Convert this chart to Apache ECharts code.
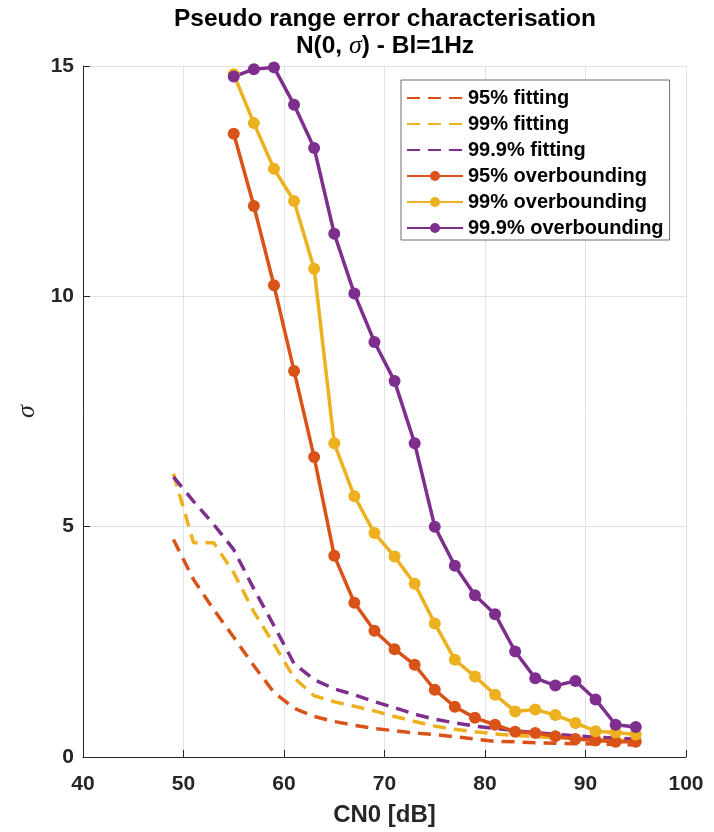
<!DOCTYPE html>
<html>
<head>
<meta charset="utf-8">
<script src="https://cdn.jsdelivr.net/npm/echarts@6.0.0/dist/echarts.min.js"></script>
<style>
  html, body { margin: 0; padding: 0; background: #fff; }
  #chart { width: 714px; height: 832px; }
</style>
</head>
<body>
<div id="chart"></div>
<script>
// CN0 sample points [dB]
const cn0Fitting = [49, 51, 53, 55, 57, 59, 61, 63, 65, 67, 69, 71, 73, 75, 77, 79, 81, 83, 85, 87, 89, 91, 93, 95];
const cn0Overbound = [55, 57, 59, 61, 63, 65, 67, 69, 71, 73, 75, 77, 79, 81, 83, 85, 87, 89, 91, 93, 95];

// Fitted sigma curves
const fit95  = [4.72, 3.85, 3.2, 2.6, 1.98, 1.4, 1.06, 0.88, 0.77, 0.69, 0.62, 0.57, 0.52, 0.49, 0.44, 0.39, 0.34, 0.33, 0.31, 0.30, 0.29, 0.28, 0.27, 0.26];
const fit99  = [6.15, 4.65, 4.65, 4.0, 3.15, 2.45, 1.72, 1.33, 1.2, 1.1, 1.0, 0.88, 0.77, 0.67, 0.6, 0.55, 0.5, 0.47, 0.44, 0.42, 0.40, 0.38, 0.37, 0.36];
const fit999 = [6.08, 5.55, 5.05, 4.5, 3.65, 2.85, 2.03, 1.68, 1.48, 1.35, 1.2, 1.07, 0.93, 0.82, 0.74, 0.67, 0.62, 0.57, 0.53, 0.49, 0.46, 0.43, 0.41, 0.39];

// Overbounding sigma values
const ob95  = [13.53, 11.96, 10.24, 8.38, 6.51, 4.37, 3.35, 2.74, 2.34, 2.0, 1.46, 1.09, 0.85, 0.70, 0.55, 0.52, 0.45, 0.39, 0.36, 0.33, 0.33];
const ob99  = [14.82, 13.76, 12.77, 12.07, 10.6, 6.81, 5.66, 4.86, 4.35, 3.76, 2.90, 2.11, 1.75, 1.35, 0.99, 1.03, 0.91, 0.74, 0.56, 0.53, 0.49];
const ob999 = [14.77, 14.93, 14.97, 14.16, 13.22, 11.36, 10.06, 9.01, 8.16, 6.81, 5.0, 4.15, 3.51, 3.10, 2.29, 1.71, 1.55, 1.65, 1.25, 0.70, 0.65];

const seriesNames = ['95% fitting', '99% fitting', '99.9% fitting', '95% overbounding', '99% overbounding', '99.9% overbounding'];
const xTicks = [40, 50, 60, 70, 80, 90, 100];
const yTicks = [0, 5, 10, 15];

const RED = '#D95319', YELLOW = '#EDB120', PURPLE = '#7E2F8E';
const AXIS = '#262626';
const FONT = '"Liberation Sans", Arial, Helvetica, sans-serif';
const SERIF = '"Liberation Serif", "DejaVu Serif", serif';

function pairs(xs, ys) { return xs.map((x, i) => [x, ys[i]]); }

function fitting(name, color, ys) {
  return {
    name, type: 'line', data: pairs(cn0Fitting, ys),
    symbol: 'none', color,
    lineStyle: { color, width: 3.5, type: [13, 8] },
    silent: true
  };
}
function overbound(name, color, ys) {
  return {
    name, type: 'line', data: pairs(cn0Overbound, ys),
    symbol: 'circle', symbolSize: 12, showSymbol: true, color,
    itemStyle: { color },
    lineStyle: { color, width: 3.5 },
    silent: true
  };
}

const chart = echarts.init(document.getElementById('chart'), null, { renderer: 'canvas' });
chart.setOption({
  animation: false,
  backgroundColor: '#fff',
  textStyle: { fontFamily: FONT },
  graphic: [
    { type: 'text', style: { x: 385, y: 19, align: 'center', verticalAlign: 'middle',
        text: 'Pseudo range error characterisation',
        font: 'bold 24.5px ' + FONT, fill: '#000' } },
    { type: 'text', style: { x: 385, y: 46, align: 'center', verticalAlign: 'middle',
        text: '{a|N(0, }{s|σ}{a|) - Bl=1Hz}',
        rich: {
          a: { fontFamily: FONT, fontWeight: 'bold', fontSize: 24.5, color: '#000' },
          s: { fontFamily: SERIF, fontStyle: 'italic', fontSize: 26, color: '#000' }
        } } }
  ],
  grid: { left: 83, right: 28, top: 66, bottom: 70, containLabel: false },
  legend: {
    orient: 'vertical', left: 401, top: 80,
    padding: [8, 6, 2, 5], itemGap: 6,
    itemWidth: 56, itemHeight: 12.5,
    backgroundColor: '#fff', borderColor: '#6e6e6e', borderWidth: 1, borderRadius: 0,
    textStyle: { fontFamily: FONT, fontWeight: 'bold', fontSize: 20, lineHeight: 20, color: '#000' },
    data: [
      { name: seriesNames[0], itemStyle: { opacity: 0 } },
      { name: seriesNames[1], itemStyle: { opacity: 0 } },
      { name: seriesNames[2], itemStyle: { opacity: 0 } },
      { name: seriesNames[3] },
      { name: seriesNames[4] },
      { name: seriesNames[5] }
    ]
  },
  xAxis: {
    type: 'value', min: xTicks[0], max: xTicks[xTicks.length - 1], interval: 10,
    name: 'CN0 [dB]', nameLocation: 'middle', nameGap: 46,
    nameTextStyle: { fontFamily: FONT, fontWeight: 'bold', fontSize: 24, color: AXIS },
    axisLine: { show: true, onZero: false, lineStyle: { color: AXIS, width: 1 } },
    axisTick: { show: true, inside: true, length: 7, lineStyle: { color: AXIS } },
    axisLabel: { margin: 17, fontFamily: FONT, fontWeight: 'bold', fontSize: 21, color: AXIS },
    splitLine: { show: true, lineStyle: { color: '#e2e2e2', width: 1 } }
  },
  yAxis: {
    type: 'value', min: yTicks[0], max: yTicks[yTicks.length - 1], interval: 5,
    name: 'σ', nameLocation: 'middle', nameGap: 35, nameRotate: 90,
    nameTextStyle: { fontFamily: SERIF, fontStyle: 'italic', fontSize: 26, color: AXIS },
    axisLine: { show: true, onZero: false, lineStyle: { color: AXIS, width: 1 } },
    axisTick: { show: true, inside: true, length: 7, lineStyle: { color: AXIS } },
    axisLabel: { margin: 9, fontFamily: FONT, fontWeight: 'bold', fontSize: 21, color: AXIS },
    splitLine: { show: true, lineStyle: { color: '#e2e2e2', width: 1 } }
  },
  series: [
    fitting(seriesNames[0], RED, fit95),
    fitting(seriesNames[1], YELLOW, fit99),
    fitting(seriesNames[2], PURPLE, fit999),
    overbound(seriesNames[3], RED, ob95),
    overbound(seriesNames[4], YELLOW, ob99),
    overbound(seriesNames[5], PURPLE, ob999)
  ]
});
</script>
</body>
</html>
